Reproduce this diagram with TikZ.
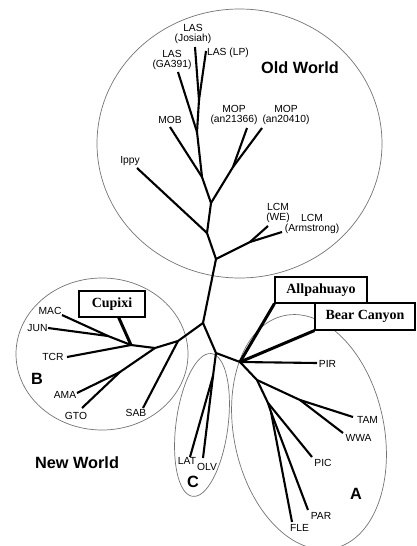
\documentclass[tikz,border=0pt]{standalone}
\usepackage{fontspec}
\setmainfont{Liberation Serif}
\newfontfamily\lsans{Liberation Sans}
\usetikzlibrary{calc}
\tikzset{
  br/.style={line width=2.1pt, line join=round},
  boxline/.style={line width=3pt},
  clade/.style={draw=black!55, line width=0.7pt},
  lab/.style={font=\lsans\fontsize{10.3}{10}\selectfont, inner sep=0pt},
  lab2/.style={lab, align=center},
  big/.style={font=\lsans\bfseries\fontsize{16.3}{16}\selectfont, inner sep=0pt},
  tag/.style={draw, line width=1.1pt, fill=white, inner sep=0pt,
              font=\bfseries\fontsize{14}{14}\selectfont},
}
\begin{document}
\begin{tikzpicture}[x=1pt,y=-1pt]
\useasboundingbox (0,0) rectangle (416,546);
% clade outlines
\coordinate (ow) at (239.5,143.5);
\coordinate (cb) at (102,354);
\coordinate (cc) at (202,425);
\coordinate (ca) at (309,432);
\draw[clade] (ow) ellipse [x radius=142.5, y radius=134.5];
\draw[clade] (cb) ellipse [x radius=86, y radius=76];
\draw[clade, rotate around={-7.5:(cc)}] (cc) ellipse [x radius=26, y radius=72];
\draw[clade, rotate around={12:(ca)}] (ca) ellipse [x radius=75, y radius=119];

% junctions
\coordinate (r0) at (216,259);
\coordinate (jip) at (207,233);
\coordinate (jmop) at (211,203);
\coordinate (jmop2) at (233,167);
\coordinate (jmob) at (202,177);
\coordinate (jga) at (197,132);
\coordinate (jlp) at (199,100);
\coordinate (jlcm) at (250,242);
\coordinate (j1) at (203,323);
\coordinate (b1) at (178,341);
\coordinate (b2) at (155,348);
\coordinate (b3) at (131,345);
\coordinate (b4) at (108,336);
\coordinate (b5) at (120,372);
\coordinate (j2) at (216,353);
\coordinate (c0) at (213,376);
\coordinate (a0) at (240,362);
\coordinate (a1) at (257,380);
\coordinate (a2) at (300,400);
\coordinate (a3) at (268,403);
\coordinate (a4) at (271,412);
% leaves
\coordinate (lIppy) at (137,168);
\coordinate (lMOB) at (170,127);
\coordinate (lGA) at (178,72);
\coordinate (lJos) at (195,47);
\coordinate (lLP) at (206,51);
\coordinate (lMOP1) at (247,128);
\coordinate (lMOP2) at (262,128);
\coordinate (lWE) at (268,226);
\coordinate (lArm) at (282,232);
\coordinate (lMAC) at (62,315);
\coordinate (lJUN) at (48,328);
\coordinate (lTCR) at (67,357);
\coordinate (lAMA) at (77,393);
\coordinate (lGTO) at (82,408);
\coordinate (lSAB) at (143,408);
\coordinate (lLAT) at (190,457);
\coordinate (lOLV) at (203,458);
\coordinate (lPIR) at (317,363);
\coordinate (lTAM) at (353,417);
\coordinate (lWWA) at (343,433);
\coordinate (lPIC) at (312,457);
\coordinate (lPAR) at (308,510);
\coordinate (lFLE) at (292,522);

% tree
\draw[br] (r0) -- (jip) -- (jmop) -- (jmob) -- (jga) -- (jlp) -- (lJos);
\draw[br] (jip) -- (lIppy);
\draw[br] (jmop) -- (jmop2) -- (lMOP1);
\draw[br] (jmop2) -- (lMOP2);
\draw[br] (jmob) -- (lMOB);
\draw[br] (jga) -- (lGA);
\draw[br] (jlp) -- (lLP);
\draw[br] (r0) -- (jlcm) -- (lWE);
\draw[br] (jlcm) -- (lArm);
\draw[br] (r0) -- (j1) -- (b1) -- (b2) -- (b3) -- (lTCR);
\draw[br] (b3) -- (b4) -- (lMAC);
\draw[br] (b4) -- (lJUN);
\draw[br] (b2) -- (b5) -- (lGTO);
\draw[br] (b5) -- (lAMA);
\draw[br] (b1) -- (lSAB);
\draw[br] (j1) -- (j2) -- (a0) -- (lPIR);
\draw[br] (j2) -- (c0) -- (lLAT);
\draw[br] (c0) -- (lOLV);
\draw[br] (a0) -- (a1) -- (a2) -- (lTAM);
\draw[br] (a2) -- (lWWA);
\draw[br] (a1) -- (a3) -- (lPIC);
\draw[br] (a3) -- (a4) -- (lPAR);
\draw[br] (a4) -- (lFLE);

% boxes
\node[tag, minimum width=66pt, minimum height=26pt] (cup) at (112,304) {Cupixi};
\node[tag, minimum width=92pt, minimum height=26pt] (allp) at (321,290) {Allpahuayo};
\node[tag, minimum width=100pt, minimum height=27pt] (bear) at (365,316.5) {Bear Canyon};
\draw[boxline] (b3) -- ($(cup.south west)!0.6!(cup.south east)$);
\draw[boxline] (a0) -- (allp.south west);
\draw[boxline] (a0) -- (bear.south west);

% labels
\node[lab2] (tJos) at (193,34) {LAS\\(Josiah)};
\node[lab] (tLP) at (228,53) {LAS (LP)};
\node[lab2] (tGA) at (172,60) {LAS\\(GA391)};
\node[lab] (tMOB) at (170,120) {MOB};
\node[lab] (tIppy) at (130,161) {Ippy};
\node[lab2] (tMOP1) at (234,115) {MOP\\(an21366)};
\node[lab2] (tMOP2) at (286,115) {MOP\\(an20410)};
\node[lab2] (tWE) at (278,213) {LCM\\(WE)};
\node[lab2] (tArm) at (312,224) {LCM\\(Armstrong)};
\node[lab] (tMAC) at (50,311) {MAC};
\node[lab] (tJUN) at (37.5,328) {JUN};
\node[lab] (tTCR) at (53,357) {TCR};
\node[lab] (tAMA) at (65,395) {AMA};
\node[lab] (tGTO) at (76,416) {GTO};
\node[lab] (tSAB) at (136,413) {SAB};
\node[lab] (tLAT) at (187,461) {LAT};
\node[lab] (tOLV) at (207,467) {OLV};
\node[lab] (tPIR) at (327.5,363.5) {PIR};
\node[lab] (tTAM) at (367.5,420) {TAM};
\node[lab] (tWWA) at (358.5,438) {WWA};
\node[lab] (tPIC) at (323,462.5) {PIC};
\node[lab] (tPAR) at (321,515.5) {PAR};
\node[lab] (tFLE) at (299.5,527.5) {FLE};
\node[big] (tOW) at (300,68) {Old World};
\node[big] (tNW) at (77,463) {New World};
\node[big] (tA) at (356,493.5) {A};
\node[big] (tB) at (37,378.5) {B};
\node[big] (tC) at (193,481.5) {C};
\end{tikzpicture}
\end{document}
